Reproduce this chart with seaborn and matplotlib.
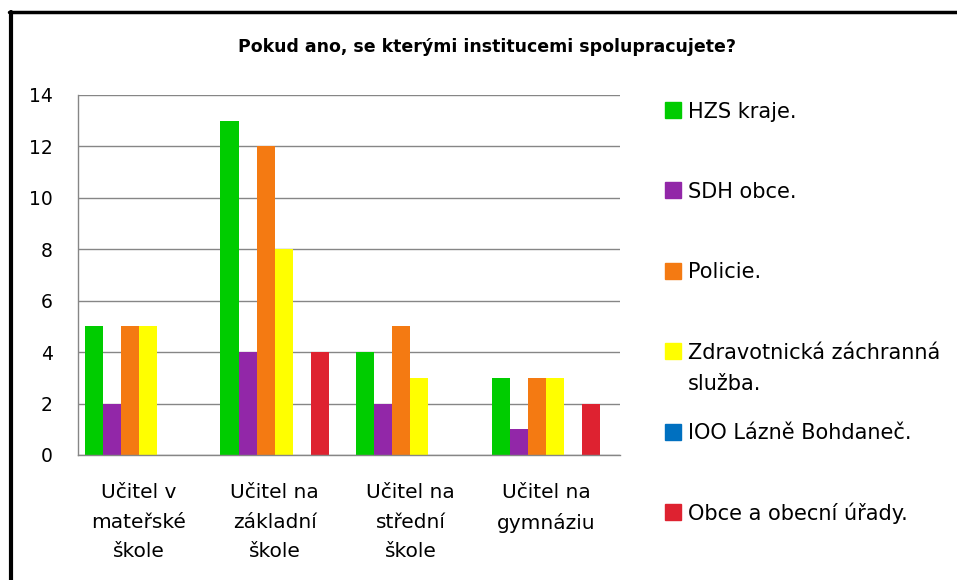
import pandas as pd
import numpy as np
import matplotlib.pyplot as plt
import seaborn as sns
from matplotlib.patches import Rectangle
from matplotlib.lines import Line2D

categories = ["Učitel v\nmateřské\nškole", "Učitel na\nzákladní\nškole",
              "Učitel na\nstřední\nškole", "Učitel na\ngymnáziu"]
series = ["HZS kraje.", "SDH obce.", "Policie.",
          "Zdravotnická záchranná\nslužba.", "IOO Lázně Bohdaneč.",
          "Obce a obecní úřady."]
hzs = [5, 13, 4, 3]
sdh = [2, 4, 2, 1]
policie = [5, 12, 5, 3]
zachranka = [5, 8, 3, 3]
ioo = [0, 0, 0, 0]
obce = [0, 4, 0, 2]
colors = ["#00CC00", "#9227A8", "#F47A12", "#FFFF00", "#0070C0", "#DE2230"]

values = [hzs, sdh, policie, zachranka, ioo, obce]
df = pd.DataFrame({
    "Kategorie": np.repeat([categories], len(series), axis=0).ravel(),
    "Instituce": np.repeat(series, len(categories)),
    "Počet": np.ravel(values),
})

sns.set_style("white")
plt.rcParams["font.family"] = ["DejaVu Sans"]
plt.rcParams["text.color"] = "black"
plt.rcParams["xtick.color"] = "black"
plt.rcParams["ytick.color"] = "black"

W, H = 957, 580
fig = plt.figure(figsize=(W / 100, H / 100), dpi=100)
ax = fig.add_axes([78 / W, 1 - 455 / H, (620 - 78) / W, (455 - 95) / H])

sns.barplot(data=df, x="Kategorie", y="Počet", hue="Instituce",
            hue_order=series, order=categories, palette=colors,
            width=0.8, saturation=1, linewidth=0, ax=ax, legend=False)

ax.set_xlim(-0.45, 3.545)
ax.set_ylim(0, 14)
ax.set_yticks(range(0, 15, 2))
ax.yaxis.grid(True, color="#868686", linewidth=1)
ax.set_axisbelow(True)
ax.set_xlabel("")
ax.set_ylabel("")
for side in ["top", "right"]:
    ax.spines[side].set_visible(False)
for side in ["left", "bottom"]:
    ax.spines[side].set_color("#868686")
    ax.spines[side].set_linewidth(1)
ax.tick_params(axis="y", length=0, pad=18, labelsize=13.5, colors="black")
ax.tick_params(axis="x", length=0, pad=20, labelsize=14.5, colors="black")
for lbl in ax.get_xticklabels():
    lbl.set_linespacing(1.72)
    lbl.set_va("top")
    lbl.set_ha("center")

fig.text(487 / W, 1 - 47 / H, "Pokud ano, se kterými institucemi spolupracujete?",
         ha="center", va="center", fontsize=12.5, fontweight="bold")

# legend drawn by hand to keep even Excel-like spacing
line_step = 31
for i, (name, col) in enumerate(zip(series, colors)):
    yc = 110 + 80.4 * i
    fig.add_artist(Rectangle((665 / W, 1 - (yc + 8) / H), 16 / W, 16 / H,
                             transform=fig.transFigure, color=col))
    extra = (name.count("\n")) * line_step
    fig.text(688 / W, 1 - (yc + 7.5 + extra) / H, name, ha="left",
             va="baseline", fontsize=15, linespacing=1.67)

# outer frame (left and top edges)
fig.add_artist(Line2D([10.5 / W, 10.5 / W], [0, 1 - 12 / H], color="black",
                      linewidth=3, transform=fig.transFigure))
fig.add_artist(Line2D([9 / W, 1], [1 - 12 / H, 1 - 12 / H], color="black",
                      linewidth=2.5, transform=fig.transFigure))

fig.savefig("out.png", dpi=100)
